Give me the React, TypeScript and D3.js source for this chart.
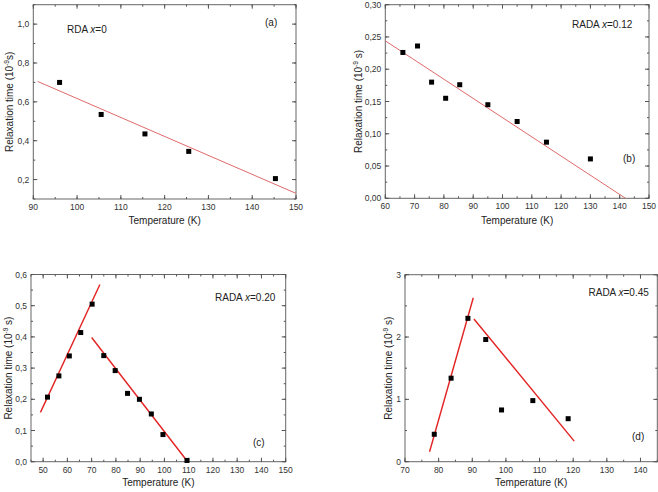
import React from "react";
import * as d3 from "d3";

// ---------- data ----------
const tempA = [96, 105.5, 115.5, 125.5, 145.3];
const tauA = [0.7, 0.535, 0.435, 0.345, 0.205];
const fitA = [[91, 0.705], [150, 0.129]];

const tempB = [66, 71, 75.8, 80.6, 85.4, 95, 105, 115, 130];
const tauB = [0.226, 0.236, 0.18, 0.155, 0.176, 0.145, 0.119, 0.087, 0.061];
const fitB = [[60, 0.244], [142, 0.0]];

const tempC = [51.8, 56.5, 60.8, 65.5, 70.2, 75, 79.7, 84.8, 89.7, 94.6, 99.4, 109.3];
const tauC = [0.207, 0.275, 0.339, 0.414, 0.505, 0.34, 0.292, 0.219, 0.2, 0.153, 0.087, 0.004];
const fitC1 = [[48.9, 0.158], [73.4, 0.568]];
const fitC2 = [[70, 0.398], [109.6, 0.0]];

const tempD = [78.7, 83.7, 88.7, 94, 98.7, 108, 118.5];
const tauD = [0.44, 1.34, 2.3, 1.96, 0.83, 0.98, 0.69];
const fitD1 = [[77.3, 0.16], [90.3, 2.63]];
const fitD2 = [[90.5, 2.29], [120.3, 0.33]];

const xTicksA = [90, 100, 110, 120, 130, 140, 150];
const yTicksA = [0.2, 0.4, 0.6, 0.8, 1.0];
const xTicksB = [60, 70, 80, 90, 100, 110, 120, 130, 140, 150];
const yTicksB = [0, 0.05, 0.1, 0.15, 0.2, 0.25, 0.3];
const xTicksC = [50, 60, 70, 80, 90, 100, 110, 120, 130, 140, 150];
const yTicksC = [0, 0.1, 0.2, 0.3, 0.4, 0.5, 0.6];
const xTicksD = [70, 80, 90, 100, 110, 120, 130, 140];
const yTicksD = [0, 1, 2, 3];

const FONT = "Liberation Sans, Arial, sans-serif";

type PanelProps = {
  xDom: [number, number];
  xRange: [number, number];
  yDom: [number, number];
  yRange: [number, number];
  xTicks: number[];
  xMinorStep: number;
  yTicks: number[];
  yMinorStep: number;
  yDecimals: number;
  temps: number[];
  taus: number[];
  fits: number[][][];
  fitColor: string;
  fitWidth: number;
  sample: string;
  xval: string;
  sampleX: number;
  sampleY: number;
  tag: string;
  tagX: number;
  tagY: number;
  yTitleX: number;
  xTitleY: number;
  spaceUnit: boolean;
};

function Panel(p: PanelProps) {
  const x = d3.scaleLinear().domain(p.xDom).range(p.xRange);
  const y = d3.scaleLinear().domain(p.yDom).range(p.yRange);
  const [x0, x1] = p.xRange;
  const [y0, y1] = [p.yRange[1], p.yRange[0]]; // top, bottom
  const fmt = (v: number) => d3.format(`.${p.yDecimals}f`)(v).replace(".", ",");
  const minorX = d3.range(p.xDom[0], p.xDom[1] + 1e-9, p.xMinorStep);
  const minorY = d3.range(p.yDom[0], p.yDom[1] + 1e-9, p.yMinorStep);
  const line = d3.line<number[]>().x((d) => x(d[0])).y((d) => y(d[1]));
  const tickColor = "#555";
  const maj = 4;
  const min = 2;
  const cx = (x0 + x1) / 2;
  const cy = (y0 + y1) / 2;
  return (
    <g>
      <rect x={x0} y={y0} width={x1 - x0} height={y1 - y0} fill="none" stroke="#666" strokeWidth={1} />
      {minorX.map((v, i) => (
        <g key={"mx" + i}>
          <line x1={x(v)} x2={x(v)} y1={y1} y2={y1 - min} stroke={tickColor} />
          <line x1={x(v)} x2={x(v)} y1={y0} y2={y0 + min} stroke={tickColor} />
        </g>
      ))}
      {minorY.map((v, i) => (
        <g key={"my" + i}>
          <line x1={x0} x2={x0 + min} y1={y(v)} y2={y(v)} stroke={tickColor} />
          <line x1={x1} x2={x1 - min} y1={y(v)} y2={y(v)} stroke={tickColor} />
        </g>
      ))}
      {p.xTicks.map((v, i) => (
        <g key={"x" + i}>
          <line x1={x(v)} x2={x(v)} y1={y1} y2={y1 - maj} stroke={tickColor} />
          <line x1={x(v)} x2={x(v)} y1={y0} y2={y0 + maj} stroke={tickColor} />
          <text x={x(v)} y={y1 + 11} textAnchor="middle" fontSize={8.5} fill="#333" fontFamily={FONT}>
            {v}
          </text>
        </g>
      ))}
      {p.yTicks.map((v, i) => (
        <g key={"y" + i}>
          <line x1={x0} x2={x0 + maj} y1={y(v)} y2={y(v)} stroke={tickColor} />
          <line x1={x1} x2={x1 - maj} y1={y(v)} y2={y(v)} stroke={tickColor} />
          <text x={x0 - 4} y={y(v) + 3} textAnchor="end" fontSize={8.5} fill="#333" fontFamily={FONT}>
            {fmt(v)}
          </text>
        </g>
      ))}
      {p.fits.map((f, i) => (
        <path key={"f" + i} d={line(f) || ""} fill="none" stroke={p.fitColor} strokeWidth={p.fitWidth} />
      ))}
      {p.temps.map((t, i) => (
        <rect key={"p" + i} x={x(t) - 2.5} y={y(p.taus[i]) - 2.5} width={5} height={5} fill="#000" />
      ))}
      <text x={p.sampleX} y={p.sampleY} fontSize={10} fill="#222" fontFamily={FONT}>
        {p.sample + " "}
        <tspan fontStyle="italic">x</tspan>
        {"=" + p.xval}
      </text>
      <text x={p.tagX} y={p.tagY} fontSize={10} fill="#222" fontFamily={FONT}>
        {p.tag}
      </text>
      <text x={cx} y={p.xTitleY} textAnchor="middle" fontSize={10} fill="#222" fontFamily={FONT}>
        Temperature (K)
      </text>
      <text
        transform={`translate(${p.yTitleX},${cy}) rotate(-90)`}
        textAnchor="middle"
        fontSize={10}
        fill="#222"
        fontFamily={FONT}
      >
        {"Relaxation time (10"}
        <tspan fontSize={6.5} dy={-4}>
          -9
        </tspan>
        <tspan dy={4}>{p.spaceUnit ? " s)" : "s)"}</tspan>
      </text>
    </g>
  );
}

export default function App() {
  return (
    <svg
      width={658}
      height={492}
      style={{ position: "absolute", left: 0, top: 0, background: "#fff" }}
    >
      <rect width={658} height={492} fill="#fff" />
      <Panel
        xDom={[90, 150]}
        xRange={[33.3, 296]}
        yDom={[0.1, 1.1]}
        yRange={[199, 4.7]}
        xTicks={xTicksA}
        xMinorStep={5}
        yTicks={yTicksA}
        yMinorStep={0.1}
        yDecimals={1}
        temps={tempA}
        taus={tauA}
        fits={[fitA]}
        fitColor="#e06a6a"
        fitWidth={1}
        sample="RDA"
        xval="0"
        sampleX={67}
        sampleY={32.5}
        tag="(a)"
        tagX={265}
        tagY={25.5}
        yTitleX={13}
        xTitleY={224}
        spaceUnit={false}
      />
      <Panel
        xDom={[60, 150]}
        xRange={[385.3, 649]}
        yDom={[0, 0.3]}
        yRange={[198.3, 4.7]}
        xTicks={xTicksB}
        xMinorStep={5}
        yTicks={yTicksB}
        yMinorStep={0.025}
        yDecimals={2}
        temps={tempB}
        taus={tauB}
        fits={[fitB]}
        fitColor="#e06a6a"
        fitWidth={1}
        sample="RADA"
        xval="0.12"
        sampleX={572}
        sampleY={27.5}
        tag="(b)"
        tagX={623}
        tagY={161.5}
        yTitleX={362}
        xTitleY={224}
        spaceUnit={true}
      />
      <Panel
        xDom={[45, 150]}
        xRange={[31, 285.7]}
        yDom={[0, 0.6]}
        yRange={[461.7, 274.5]}
        xTicks={xTicksC}
        xMinorStep={5}
        yTicks={yTicksC}
        yMinorStep={0.05}
        yDecimals={1}
        temps={tempC}
        taus={tauC}
        fits={[fitC1, fitC2]}
        fitColor="#e32222"
        fitWidth={1.4}
        sample="RADA"
        xval="0.20"
        sampleX={215}
        sampleY={301}
        tag="(c)"
        tagX={253}
        tagY={446}
        yTitleX={11.5}
        xTitleY={486}
        spaceUnit={true}
      />
      <Panel
        xDom={[70, 145]}
        xRange={[405, 657.3]}
        yDom={[0, 3]}
        yRange={[461.7, 274.7]}
        xTicks={xTicksD}
        xMinorStep={5}
        yTicks={yTicksD}
        yMinorStep={0.5}
        yDecimals={0}
        temps={tempD}
        taus={tauD}
        fits={[fitD1, fitD2]}
        fitColor="#e32222"
        fitWidth={1.4}
        sample="RADA"
        xval="0.45"
        sampleX={588.5}
        sampleY={295.5}
        tag="(d)"
        tagX={632}
        tagY={440}
        yTitleX={392}
        xTitleY={486}
        spaceUnit={true}
      />
    </svg>
  );
}
